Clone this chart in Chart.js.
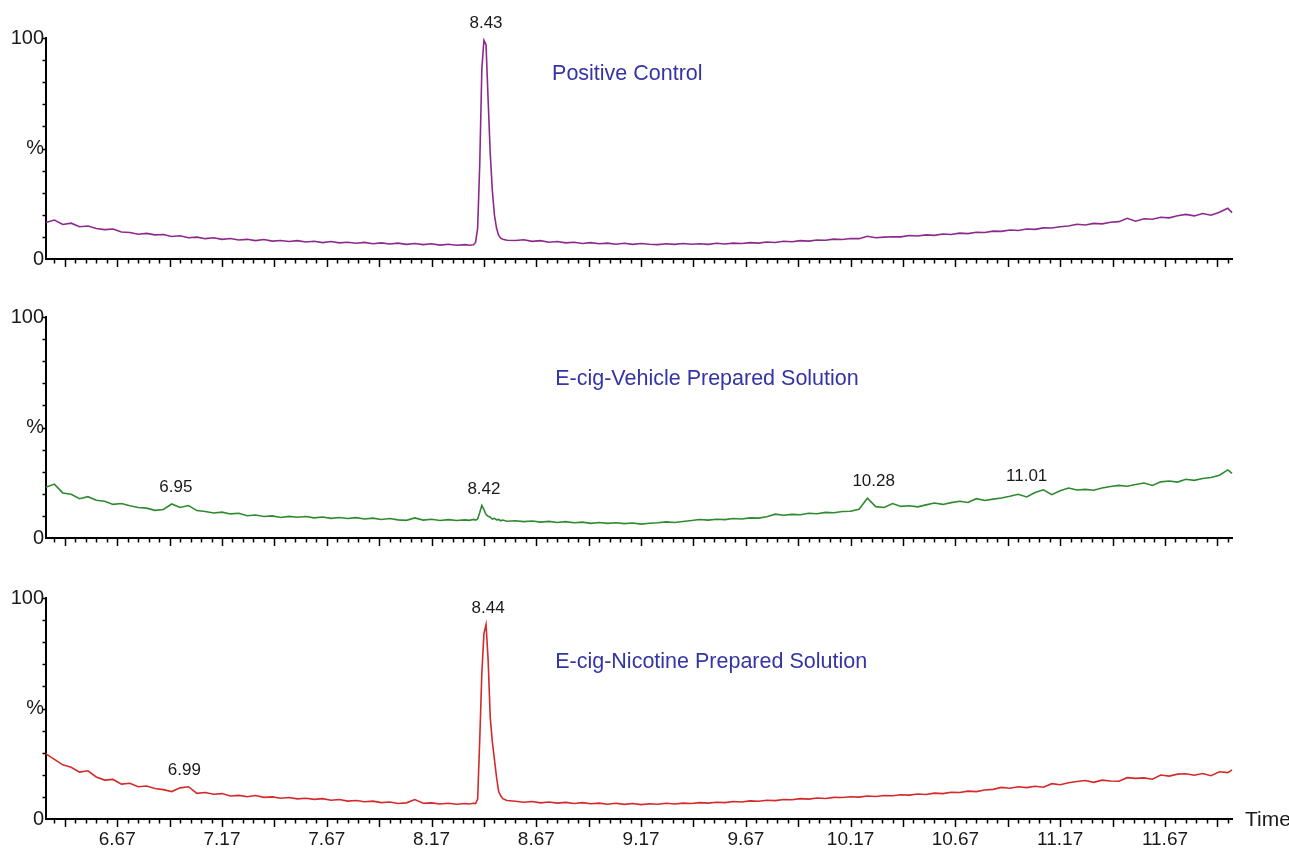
<!DOCTYPE html>
<html><head><meta charset="utf-8">
<script src="https://cdn.jsdelivr.net/npm/chart.js@4/dist/chart.umd.min.js"></script>
<style>
html,body{margin:0;padding:0;background:#fff;}
body{width:1289px;height:850px;position:relative;overflow:hidden;}
canvas{position:absolute;left:0;}
</style></head><body>
<canvas id="c1" width="1289" height="280" style="top:0px"></canvas>
<canvas id="c2" width="1289" height="280" style="top:279px"></canvas>
<canvas id="c3" width="1289" height="290" style="top:560px"></canvas>
<script>
// Retention time (min)
const times = [
6.33,6.37,6.41,6.45,6.49,6.53,6.57,6.61,6.65,6.69,6.73,6.77,6.81,6.85,6.89,6.93,6.97,7.01,7.05,7.09,
7.13,7.17,7.21,7.25,7.29,7.33,7.37,7.41,7.45,7.49,7.53,7.57,7.61,7.65,7.69,7.73,7.77,7.81,7.85,7.89,
7.93,7.97,8.01,8.05,8.09,8.13,8.17,8.21,8.25,8.29,8.33,
8.35,8.37,8.38,8.39,8.40,8.41,8.42,8.43,8.44,8.45,8.46,8.47,8.48,8.49,8.50,8.51,8.53,
8.57,8.61,8.65,8.69,8.73,8.77,8.81,8.85,8.89,8.93,8.97,9.01,9.05,9.09,9.13,9.17,9.21,9.25,9.29,9.33,
9.37,9.41,9.45,9.49,9.53,9.57,9.61,9.65,9.69,9.73,9.77,9.81,9.85,9.89,9.93,9.97,10.01,10.05,10.09,10.13,
10.17,10.21,10.25,10.29,10.33,10.37,10.41,10.45,10.49,10.53,10.57,10.61,10.65,10.69,10.73,10.77,10.81,10.85,10.89,10.93,
10.97,11.01,11.05,11.09,11.13,11.17,11.21,11.25,11.29,11.33,11.37,11.41,11.45,11.49,11.53,11.57,11.61,11.65,11.69,11.73,
11.77,11.81,11.85,11.89,11.93,11.97,11.99
];
// Positive Control (%)
const positiveControl = [
16.5,17.6,15.6,16.2,14.6,14.9,13.8,13.3,13.6,12.2,12.0,11.2,11.6,10.9,11.1,10.2,10.5,9.6,9.9,9.2,
9.6,8.9,9.3,8.6,8.9,8.3,8.8,8.1,8.4,7.9,8.3,7.7,8.0,7.4,7.9,7.3,7.6,7.1,7.5,6.9,
7.3,6.8,7.2,6.6,7.0,6.5,6.9,6.3,6.7,6.2,6.5,
6.2,6.4,7.5,14,43,86,99,97,72,48,31,20,14,10.8,9.4,8.9,8.5,
8.4,8.7,8.0,8.3,7.6,7.9,7.3,7.6,7.0,7.4,6.9,7.2,6.7,7.1,6.6,7.0,6.7,6.5,6.9,6.6,
7.0,6.7,6.9,6.6,7.1,6.8,7.2,7.0,7.4,7.2,7.7,7.5,8.0,7.8,8.3,8.1,8.6,8.5,9.0,8.8,
9.3,9.2,10.3,9.6,9.9,10.1,10.0,10.6,10.4,10.9,10.7,11.3,11.1,11.7,11.5,12.1,12.0,12.6,12.5,13.1,
12.9,13.6,13.4,14.1,14.0,14.6,14.9,15.7,15.4,16.1,15.9,16.6,16.9,18.4,17.1,18.2,18.0,18.9,18.6,19.6,
20.2,19.5,20.6,19.8,21.2,23.0,21.0
];
// E-cig-Vehicle Prepared Solution (%)
const vehicleSolution = [
23.0,24.4,20.4,19.8,17.8,18.7,17.1,16.6,15.2,15.6,14.6,13.8,13.5,12.5,12.9,15.4,13.8,14.7,12.4,12.0,
11.3,11.7,10.9,11.2,10.1,10.4,9.7,10.0,9.3,9.8,9.4,9.7,9.1,9.5,8.9,9.3,8.8,9.2,8.6,9.0,
8.4,8.8,8.2,8.0,9.1,8.1,8.5,7.9,8.3,7.9,8.2,
8.0,8.4,8.1,8.6,11.5,14.7,12.8,10.6,9.8,9.4,8.6,8.9,8.2,8.4,7.8,8.1,7.6,
7.8,7.4,7.7,7.2,7.5,7.0,7.4,6.9,7.2,6.6,7.0,6.6,6.9,6.5,6.8,6.3,6.7,6.9,7.3,7.0,
7.5,7.9,8.4,8.1,8.5,8.3,8.8,8.6,9.1,9.0,9.6,10.8,10.3,10.7,10.5,11.2,11.0,11.6,11.4,12.0,
12.1,13.0,18.0,14.2,13.8,15.6,14.3,14.6,14.1,15.0,15.8,15.2,16.0,16.6,16.1,17.8,17.0,17.6,18.1,18.9,
19.8,18.6,20.6,21.8,19.6,21.4,22.6,21.7,22.0,21.6,22.6,23.3,23.8,23.4,24.2,24.9,23.8,25.4,25.8,25.3,
26.6,26.1,26.9,27.4,28.4,30.8,29.2
];
// E-cig-Nicotine Prepared Solution (%)
const nicotineSolution = [
29.5,27.0,24.5,23.4,21.2,21.8,19.0,17.6,17.9,15.8,16.2,14.6,14.9,13.8,13.3,12.4,14.1,14.6,11.6,12.0,
11.2,11.5,10.4,10.7,10.1,10.6,9.8,10.0,9.4,9.7,9.1,9.4,8.9,9.2,8.5,8.8,8.1,8.4,7.8,8.1,
7.4,7.7,7.0,7.3,8.8,7.1,7.3,6.8,7.1,6.7,7.0,
6.8,7.1,7.0,9,36,66,84,88,72,46,35,27,19,12.5,10.5,9.2,8.4,
8.0,7.6,7.9,7.3,7.7,7.2,7.5,7.0,7.4,6.9,7.2,6.7,7.1,6.6,7.0,6.5,6.9,6.7,7.1,6.8,
7.2,7.0,7.4,7.2,7.6,7.4,7.9,7.7,8.2,8.0,8.5,8.3,8.8,8.7,9.2,9.0,9.5,9.3,9.8,9.7,
10.1,9.9,10.4,10.2,10.6,10.5,11.0,10.8,11.3,11.1,11.7,11.5,12.1,12.0,12.6,12.4,13.1,13.4,14.3,13.9,
14.6,14.2,14.8,14.4,16.0,15.5,16.4,17.0,17.4,16.6,17.6,17.2,17.1,18.7,18.4,18.6,18.0,19.9,19.4,20.3,
20.5,19.8,20.6,19.6,21.4,21.0,22.2
];
const xTickLabels = ['6.67','7.17','7.67','8.17','8.67','9.17','9.67','10.17','10.67','11.17','11.67'];
const yTickValues = [0, 50, 100];
const yTickLabels = ['0', '%', '100'];
const peaks1 = ['8.43'];
const peaks2 = ['6.95', '8.42', '10.28', '11.01'];
const peaks3 = ['6.99', '8.44'];
const titles = ['Positive Control', 'E-cig-Vehicle Prepared Solution', 'E-cig-Nicotine Prepared Solution'];

const FONT = "'Liberation Sans', Arial, Helvetica, sans-serif";
const X_MIN = 6.33, X_MAX = 11.99;

function makePanel(id, values, color, title, titleAnchor, peaks, bottom, xAxisHeight) {
  const decor = {
    id: 'decor' + id,
    afterDraw(chart) {
      const ctx = chart.ctx, xs = chart.scales.x, ys = chart.scales.y;
      const a = chart.chartArea;
      ctx.save();
      ctx.strokeStyle = '#000';
      ctx.lineWidth = 1.5;
      // x tick marks: every 0.05 min, longer every 0.25 min
      for (let k = 0; ; k++) {
        const v = 6.37 + 0.05 * k;
        if (v > X_MAX + 1e-9) break;
        const q = (v - 6.42) / 0.25;
        const isLong = Math.abs(q - Math.round(q)) < 1e-6;
        const px = Math.round(xs.getPixelForValue(v)) + 0.5;
        ctx.beginPath();
        ctx.moveTo(px, a.bottom);
        ctx.lineTo(px, a.bottom + (isLong ? 8 : 4.5));
        ctx.stroke();
      }
      // y tick marks every 10 %
      for (let v = 10; v <= 100; v += 10) {
        const py = Math.round(ys.getPixelForValue(v)) + 0.5;
        ctx.beginPath();
        ctx.moveTo(a.left - 3.5, py);
        ctx.lineTo(a.left, py);
        ctx.stroke();
      }
      // peak retention-time labels
      ctx.fillStyle = '#1a1a1a';
      ctx.font = '17px ' + FONT;
      ctx.textAlign = 'center';
      ctx.textBaseline = 'bottom';
      peaks.forEach(lbl => {
        const t = parseFloat(lbl);
        let m = 0;
        times.forEach((tt, i) => { if (Math.abs(tt - t) <= 0.05 && values[i] > m) m = values[i]; });
        ctx.fillText(lbl, xs.getPixelForValue(t), ys.getPixelForValue(m) - 8);
      });
      // panel title
      ctx.fillStyle = '#3434a6';
      ctx.font = '21.5px ' + FONT;
      ctx.textAlign = 'left';
      ctx.textBaseline = 'middle';
      ctx.fillText(title, xs.getPixelForValue(titleAnchor[0]), ys.getPixelForValue(titleAnchor[1]));
      if (bottom) {
        ctx.fillStyle = '#1a1a1a';
        ctx.font = '21px ' + FONT;
        ctx.fillText('Time', a.right + 13, a.bottom + 1);
      }
      ctx.restore();
    }
  };
  return new Chart(document.getElementById(id), {
    type: 'line',
    data: {
      datasets: [{
        data: times.map((t, i) => ({ x: t, y: values[i] })),
        borderColor: color,
        borderWidth: 1.6,
        pointRadius: 0,
        tension: 0,
        fill: false,
        clip: 4
      }]
    },
    options: {
      responsive: false,
      animation: false,
      layout: { padding: { top: 38, right: 57, left: 0, bottom: 0 } },
      plugins: { legend: { display: false }, tooltip: { enabled: false } },
      scales: {
        x: {
          type: 'linear', min: X_MIN, max: X_MAX,
          grid: { display: false, drawTicks: false },
          border: { display: true, color: '#000', width: 2 },
          ticks: {
            display: bottom, autoSkip: false, maxRotation: 0, padding: 9,
            color: '#1a1a1a', font: { family: FONT, size: 19 },
            callback: (v) => { const s = xTickLabels.find(l => Math.abs(parseFloat(l) - v) < 1e-6); return s || ''; }
          },
          afterBuildTicks: (axis) => { axis.ticks = xTickLabels.map(l => ({ value: parseFloat(l) })); },
          afterFit: (s) => { s.height = xAxisHeight; }
        },
        y: {
          min: 0, max: 100,
          grid: { display: false, drawTicks: false },
          border: { display: true, color: '#000', width: 2 },
          ticks: {
            padding: 2, color: '#1a1a1a', font: { family: FONT, size: 20 },
            callback: (v) => { const i = yTickValues.indexOf(v); return i >= 0 ? yTickLabels[i] : ''; }
          },
          afterBuildTicks: (axis) => { axis.ticks = yTickValues.map(v => ({ value: v })); },
          afterFit: (s) => { s.width = 46; }
        }
      }
    },
    plugins: [decor]
  });
}

makePanel('c1', positiveControl, '#8c2a8c', titles[0], [8.745, 83.8], peaks1, false, 21);
makePanel('c2', vehicleSolution, '#2f8a2f', titles[1], [8.76, 71.8], peaks2, false, 21);
makePanel('c3', nicotineSolution, '#d42a2a', titles[2], [8.76, 70.9], peaks3, true, 31);
</script>
</body></html>
